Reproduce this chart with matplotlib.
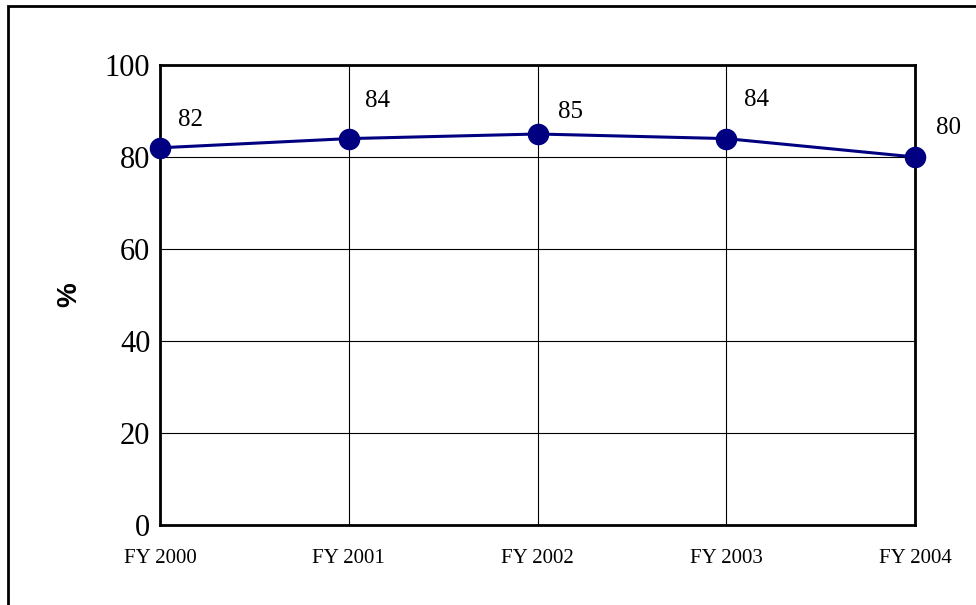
import matplotlib
matplotlib.use("Agg")
import matplotlib.pyplot as plt
from matplotlib.patches import Rectangle

years = ["FY 2000", "FY 2001", "FY 2002", "FY 2003", "FY 2004"]
values = [82, 84, 85, 84, 80]
# label offsets in points (dx, dy) as they sit in the original
label_offsets = [(22, 20), (21, 27), (24, 16), (22, 28), (24, 21)]

fig = plt.figure(figsize=(9.76, 6.05), dpi=100)
ax = fig.add_axes([160 / 976, 1 - 525 / 605, 755 / 976, 460 / 605])

x = list(range(len(years)))
ax.plot(x, values, color="#000080", lw=2.2, marker="o", ms=14.5,
        markerfacecolor="#000080", markeredgecolor="#000080", clip_on=False, zorder=5)

for xi, v, (dx, dy) in zip(x, values, label_offsets):
    ax.annotate(str(v), (xi, v), xytext=(dx, dy), textcoords="offset points",
                ha="center", va="center", fontsize=18, family="Liberation Serif")

ax.set_xlim(0, len(years) - 1)
ax.set_ylim(0, 100)
ax.set_yticks(range(0, 101, 20))
ax.set_xticks(x)
ax.set_xticklabels(years, family="Liberation Serif", fontsize=15)
for lab in ax.get_yticklabels():
    lab.set_family("Liberation Serif")
    lab.set_fontsize(22)
ax.tick_params(length=0, pad=17, axis="x")
ax.tick_params(length=0, pad=7, axis="y")
ax.grid(True, color="black", lw=0.8)
ax.set_axisbelow(True)
for s in ax.spines.values():
    s.set_linewidth(2)

ax.set_ylabel("%", family="Liberation Sans", fontweight="bold", fontsize=20, labelpad=16)

# outer frame (extends past the right and bottom edges)
fig.patches.append(Rectangle((8 / 976, -0.1), 1.2, 1 - 6 / 605 + 0.1,
                             transform=fig.transFigure, fill=False,
                             edgecolor="black", lw=2))

fig.savefig("out.png", dpi=100)
